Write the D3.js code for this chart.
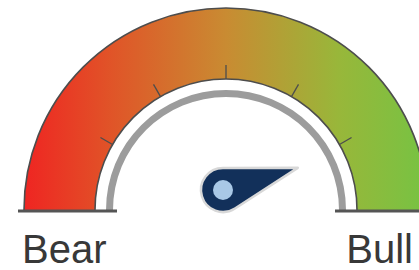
<!DOCTYPE html>
<html>
<head>
  <meta charset="utf-8">
  <script src="https://d3js.org/d3.v7.min.js"></script>
  <style type="text/css">
    body { margin: 0; background: #fff; }
    text { font-family: "Liberation Sans", Arial, sans-serif; }
  </style>
</head>
<body>
  <script type="text/javascript">
    // gauge data
    var labels = ["Bear", "Bull"];
    var scaleRange = [0, 6];
    var tickValues = [1, 2, 3, 4, 5];
    var needleValue = 5.45;
    var gradientStops = [
      { offset: 0.0, color: "#ef2522" },
      { offset: 0.22, color: "#e05528" },
      { offset: 0.5, color: "#c98b32" },
      { offset: 0.78, color: "#98b73a" },
      { offset: 1.0, color: "#76c343" }
    ];

    var width = 419, height = 270;
    var cx = 226, cy = 210;
    var outerR = 202, innerR = 131;

    var svg = d3.select("body").append("svg")
      .attr("width", width)
      .attr("height", height);

    // value -> angle (radians, 0 = straight up)
    var angle = d3.scaleLinear()
      .domain(scaleRange)
      .range([-Math.PI / 2, Math.PI / 2]);

    var defs = svg.append("defs");
    // gradient coords are in the translated group's space
    var grad = defs.append("linearGradient")
      .attr("id", "gaugeGrad")
      .attr("gradientUnits", "userSpaceOnUse")
      .attr("x1", -outerR).attr("y1", 0)
      .attr("x2", outerR).attr("y2", 0);
    grad.selectAll("stop")
      .data(gradientStops)
      .enter().append("stop")
        .attr("offset", function(d) { return d.offset; })
        .attr("stop-color", function(d) { return d.color; });

    var g = svg.append("g")
      .attr("transform", "translate(" + cx + "," + cy + ")");

    // coloured band
    var band = d3.arc()
      .innerRadius(innerR)
      .outerRadius(outerR)
      .startAngle(angle(scaleRange[0]))
      .endAngle(angle(scaleRange[1]));
    g.append("path")
      .attr("d", band())
      .attr("fill", "url(#gaugeGrad)");

    // outlines of the band
    [innerR, outerR].forEach(function(r) {
      g.append("path")
        .attr("d", d3.arc().innerRadius(r).outerRadius(r)
          .startAngle(angle(scaleRange[0])).endAngle(angle(scaleRange[1]))())
        .attr("fill", "none")
        .attr("stroke", "#4d4d4d")
        .attr("stroke-width", 1.6);
    });

    // gray inner ring
    g.append("path")
      .attr("d", d3.arc().innerRadius(113).outerRadius(120)
        .startAngle(angle(scaleRange[0])).endAngle(angle(scaleRange[1]))())
      .attr("fill", "#9c9c9c");

    // ticks
    g.selectAll("line.tick")
      .data(tickValues)
      .enter().append("line")
        .attr("class", "tick")
        .attr("x1", function(d) { return innerR * Math.sin(angle(d)); })
        .attr("y1", function(d) { return -innerR * Math.cos(angle(d)); })
        .attr("x2", function(d) { return (innerR + 14) * Math.sin(angle(d)); })
        .attr("y2", function(d) { return -(innerR + 14) * Math.cos(angle(d)); })
        .attr("stroke", "#4d4d4d")
        .attr("stroke-width", 1.3);

    // baselines
    svg.append("line")
      .attr("x1", 18).attr("x2", 117)
      .attr("y1", cy + 1).attr("y2", cy + 1)
      .attr("stroke", "#555").attr("stroke-width", 3);
    svg.append("line")
      .attr("x1", 335).attr("x2", width)
      .attr("y1", cy + 1).attr("y2", cy + 1)
      .attr("stroke", "#555").attr("stroke-width", 3);

    // needle
    var px = 223, py = 190, hubR = 22, tipLen = 78;
    var a = angle(needleValue);
    var nx = Math.sin(a), ny = -Math.cos(a);
    // tangent points from tip to hub circle
    var t = Math.acos(hubR / tipLen);
    var base = Math.atan2(ny, nx);
    var p1 = [hubR * Math.cos(base + t), hubR * Math.sin(base + t)];
    var tip = [tipLen * nx, tipLen * ny];
    var needlePath = d3.path();
    needlePath.moveTo(tip[0], tip[1]);
    needlePath.lineTo(p1[0], p1[1]);
    needlePath.arc(0, 0, hubR, base + t, base - t + 2 * Math.PI);
    needlePath.closePath();

    var ng = svg.append("g")
      .attr("transform", "translate(" + px + "," + py + ")");
    ng.append("path")
      .attr("d", needlePath.toString())
      .attr("fill", "#12305a")
      .attr("stroke", "#d8d8d8")
      .attr("stroke-width", 2.5)
      .attr("stroke-linejoin", "round");
    ng.append("circle")
      .attr("r", 10)
      .attr("fill", "#a9c8e6");

    // labels
    svg.append("text")
      .attr("x", 22).attr("y", 263)
      .style("font-size", "40px")
      .style("fill", "#383838")
      .text(labels[0]);
    svg.append("text")
      .attr("x", 413).attr("y", 263)
      .style("text-anchor", "end")
      .style("font-size", "40px")
      .style("fill", "#383838")
      .text(labels[1]);
  </script>
</body>
</html>
